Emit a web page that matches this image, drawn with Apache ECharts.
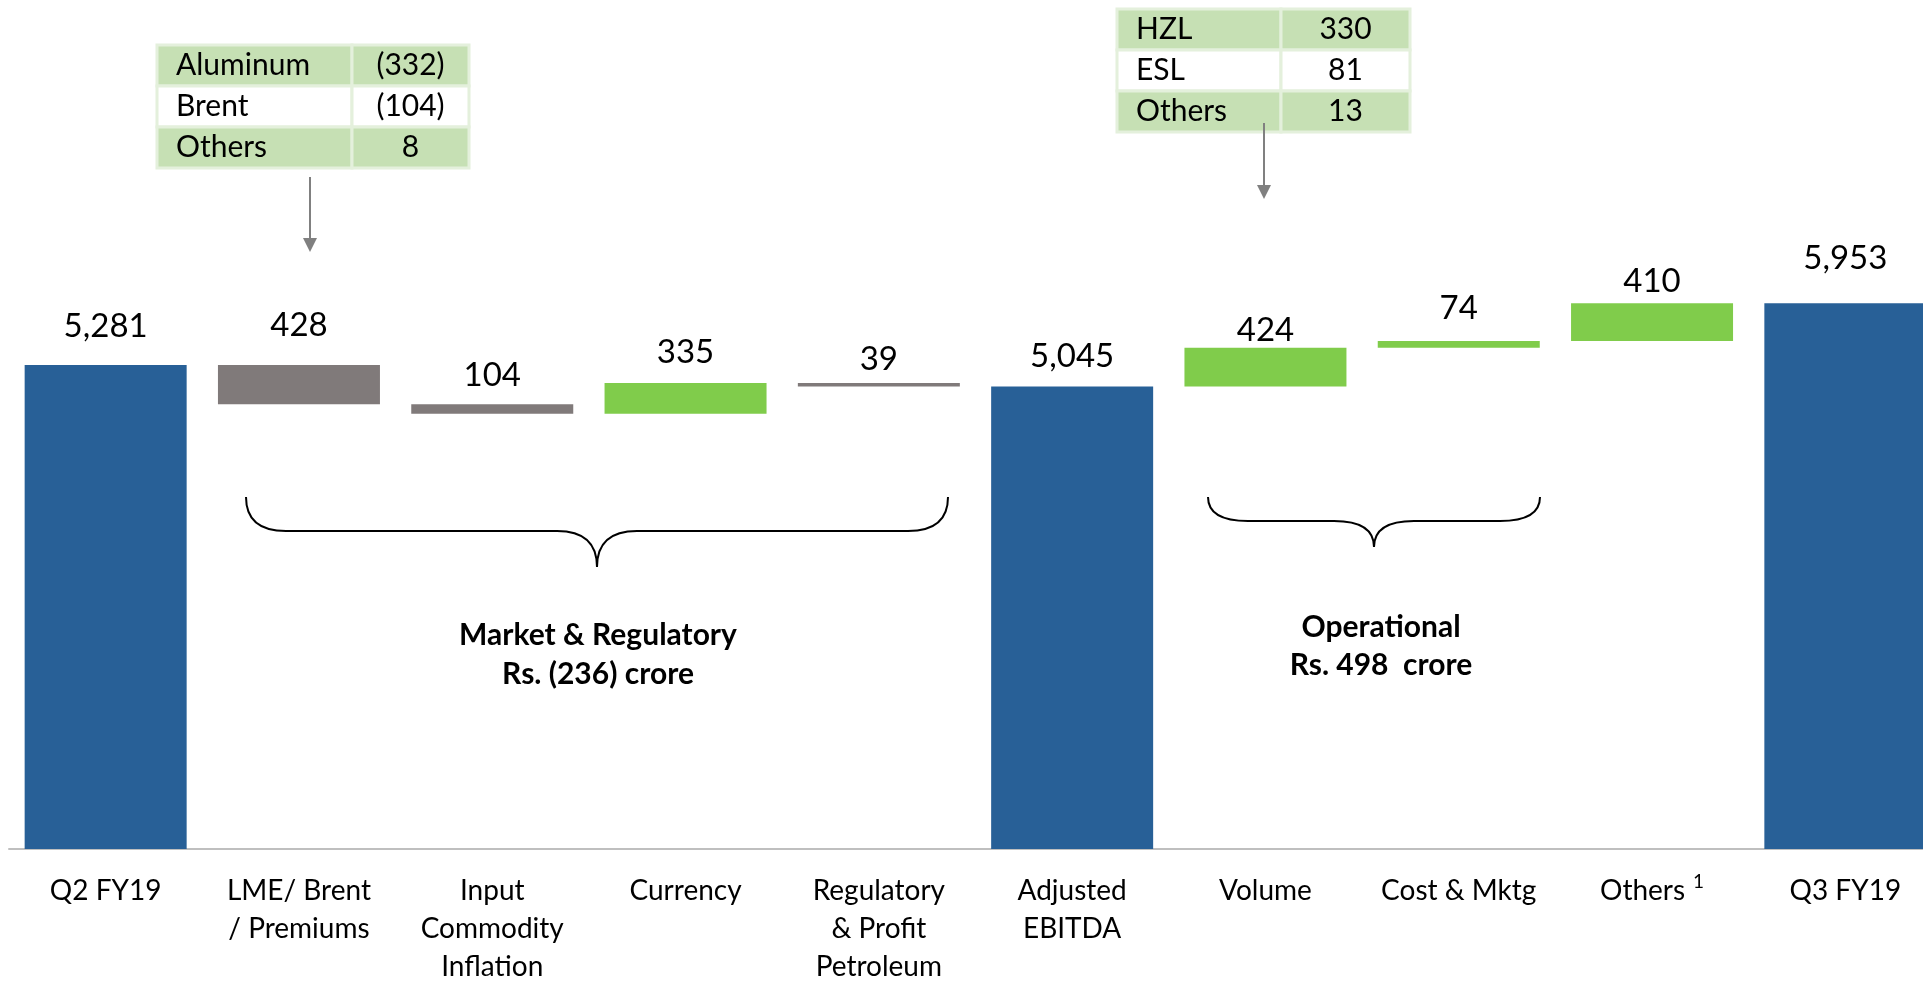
<!DOCTYPE html>
<html>
<head>
<meta charset="utf-8">
<script src="https://cdn.jsdelivr.net/npm/echarts@6/dist/echarts.min.js"></script>
<style>
html,body{margin:0;padding:0;background:#fff;}
#main{width:1923px;height:981px;}
</style>
</head>
<body>
<div id="main"></div>
<script>
// bridge categories and values (Rs. crore)
var categories = ['Q2 FY19', 'LME/ Brent\n/ Premiums', 'Input\nCommodity\nInflation', 'Currency',
	'Regulatory\n& Profit\nPetroleum', 'Adjusted\nEBITDA', 'Volume', 'Cost & Mktg', 'Others', 'Q3 FY19'];
var values = [5281, -428, -104, 335, -39, 5045, 424, 74, 410, 5953];
var kinds = ['total', 'delta', 'delta', 'delta', 'delta', 'total', 'delta', 'delta', 'delta', 'total'];

// callout tables
var marketRows = ['Aluminum', 'Brent', 'Others'];
var marketVals = ['(332)', '(104)', '8'];
var operRows = ['HZL', 'ESL', 'Others'];
var operVals = ['330', '81', '13'];

// extra lift of each value label above its bar (px), as placed in the original slide
var labelLift = [10, 11, 0, 2, -5, 2, -11, 4, -7, 16];

var BLUE = '#286097', GREY = '#807A7A', GREEN = '#80CC4B';
var FONT = 'Lato';

var base = [], heights = [], colors = [];
var running = 0;
values.forEach(function(v, i){
	if (kinds[i] == 'total') {
		base.push(0); heights.push(v); colors.push(BLUE);
		running = v;
	} else if (v < 0) {
		base.push(running + v); heights.push(-v); colors.push(GREY);
		running += v;
	} else {
		base.push(running); heights.push(v); colors.push(GREEN);
		running += v;
	}
});

function fmt(n){
	return Math.abs(n).toString().replace(/\B(?=(\d{3})+(?!\d))/g, ',');
}

function table(x0, y0, w1, w2, rh, rows, vals){
	var els = [];
	rows.forEach(function(r, i){
		var fill = i == 1 ? '#ffffff' : '#C6E0B4';
		var y = y0 + i*rh;
		els.push({type:'rect', shape:{x:x0, y:y, width:w1, height:rh},
			style:{fill:fill, stroke:'#E4F0DC', lineWidth:3}});
		els.push({type:'rect', shape:{x:x0+w1, y:y, width:w2, height:rh},
			style:{fill:fill, stroke:'#E4F0DC', lineWidth:3}});
		els.push({type:'text', x:x0+19, y:y+rh/2,
			style:{text:r, font:'30px ' + FONT, fill:'#000', textVerticalAlign:'middle'}});
		els.push({type:'text', x:x0+w1+w2/2, y:y+rh/2,
			style:{text:vals[i], font:'30px ' + FONT, fill:'#000', textAlign:'center', textVerticalAlign:'middle'}});
	});
	return els;
}

function arrow(x, y1, y2){
	return [
		{type:'line', shape:{x1:x, y1:y1, x2:x, y2:y2-12}, style:{stroke:'#808080', lineWidth:2}},
		{type:'polygon', shape:{points:[[x-7, y2-14], [x+7, y2-14], [x, y2]]}, style:{fill:'#808080'}}
	];
}

function brace(x1, x2, xm, yTop, yMid, yTip){
	var r = 40;
	var st = {stroke:'#000', lineWidth:2, fill:null};
	function curve(ax, ay, cx, cy, bx, by){
		return {type:'bezierCurve', shape:{x1:ax, y1:ay, cpx1:cx, cpy1:cy, x2:bx, y2:by}, style:st};
	}
	function seg(ax, ay, bx, by){
		return {type:'line', shape:{x1:ax, y1:ay, x2:bx, y2:by}, style:st};
	}
	return [
		curve(x1, yTop, x1, yMid, x1+r, yMid),
		seg(x1+r, yMid, xm-r, yMid),
		curve(xm-r, yMid, xm, yMid, xm, yTip),
		curve(xm, yTip, xm, yMid, xm+r, yMid),
		seg(xm+r, yMid, x2-r, yMid),
		curve(x2-r, yMid, x2, yMid, x2, yTop)
	];
}

function boldText(x, y, txt){
	return {type:'text', x:x, y:y, style:{text:txt, font:'bold 30px ' + FONT, fill:'#000',
		textAlign:'center', textVerticalAlign:'middle'}};
}

var graphics = []
	.concat(table(157, 45, 195, 117, 41, marketRows, marketVals))
	.concat(table(1117, 9, 164, 129, 41, operRows, operVals))
	.concat(arrow(310, 177, 252))
	.concat(arrow(1264, 123, 199))
	.concat(brace(246, 948, 597, 497, 531, 567))
	.concat(brace(1208, 1540, 1374, 497, 521, 547))
	.concat([
		boldText(598, 635, 'Market & Regulatory'),
		boldText(598, 674, 'Rs. (236) crore'),
		boldText(1381, 627, 'Operational'),
		boldText(1381, 665, 'Rs. 498  crore')
	]);

var chart = echarts.init(document.getElementById('main'));
chart.setOption({
	animation: false,
	backgroundColor: '#fff',
	grid: {left: 9, right: -19, top: 24, bottom: 132, containLabel: false, outerBoundsMode: 'none'},
	xAxis: {
		type: 'category',
		data: categories,
		axisTick: {show: false},
		axisLine: {lineStyle: {color: '#BFBFBF', width: 2}},
		axisLabel: {
			interval: 0,
			margin: 23,
			color: '#000',
			fontFamily: FONT,
			fontSize: 28,
			lineHeight: 38,
			formatter: function(v){
				return v == 'Others' ? v + '{sup|1}' : v;
			},
			rich: {
				sup: {fontSize: 19, fontFamily: FONT, color: '#000', verticalAlign: 'top', padding: [0, 0, 30, 8]}
			}
		}
	},
	yAxis: {type: 'value', min: 0, max: 9000, show: false, splitLine: {show: false}},
	series: [
		{
			type: 'bar', stack: 'w', silent: true,
			itemStyle: {color: 'transparent'},
			data: base
		},
		{
			type: 'bar', stack: 'w', barWidth: 162,
			data: heights.map(function(h, i){
				return {value: h, itemStyle: {color: colors[i]}, label: {distance: 12 + labelLift[i]}};
			}),
			label: {
				show: true, position: 'top', distance: 12,
				color: '#000', fontFamily: FONT, fontSize: 33,
				formatter: function(p){ return fmt(values[p.dataIndex]); }
			}
		}
	],
	graphic: graphics
});
</script>
</body>
</html>
